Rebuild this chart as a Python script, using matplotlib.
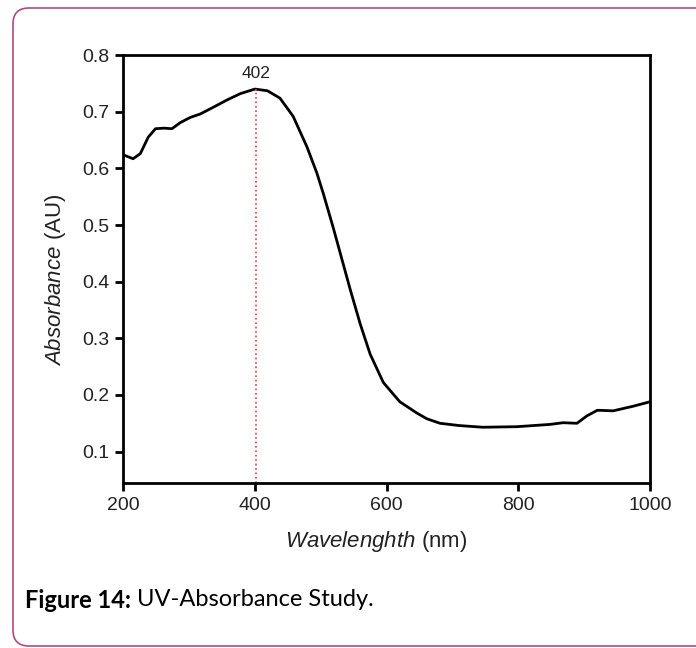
import matplotlib
matplotlib.use('Agg')
import matplotlib.pyplot as plt
from matplotlib.patches import FancyBboxPatch
from matplotlib.transforms import IdentityTransform

plt.rcParams['font.family'] = ['Liberation Sans', 'DejaVu Sans']
plt.rcParams['mathtext.fontset'] = 'custom'
plt.rcParams['mathtext.rm'] = 'Liberation Sans'
plt.rcParams['mathtext.it'] = 'Liberation Sans:italic'

# UV-Vis spectrum
wavelength = [200, 215, 226, 238, 249, 262, 274, 287, 302, 317, 337, 358, 378,
              400, 419, 438, 458, 479, 494, 504, 519, 532, 545, 560, 575, 595,
              620, 646, 661, 681, 710, 746, 798, 848, 868, 889, 904, 920, 944,
              974, 1000]
absorbance = [0.624, 0.617, 0.626, 0.655, 0.670, 0.671, 0.670, 0.681, 0.690,
              0.696, 0.708, 0.721, 0.732, 0.740, 0.737, 0.724, 0.692, 0.638,
              0.592, 0.555, 0.495, 0.440, 0.385, 0.325, 0.272, 0.222, 0.188,
              0.168, 0.158, 0.150, 0.146, 0.143, 0.144, 0.148, 0.151, 0.150,
              0.163, 0.173, 0.172, 0.180, 0.188]
peak_nm = 402
peak_abs = 0.740
xticks = [200, 400, 600, 800, 1000]
yticks = [0.1, 0.2, 0.3, 0.4, 0.5, 0.6, 0.7, 0.8]

fig = plt.figure(figsize=(6.96, 6.48), dpi=100)
ax = fig.add_axes([0.177, 0.255, 0.757, 0.660])

ax.plot(wavelength, absorbance, color='black', lw=2.0)
ax.plot([peak_nm, peak_nm], [0.045, peak_abs], color='#ff3030', lw=1.2, ls=':')
ax.text(peak_nm, 0.768, str(peak_nm), ha='center', va='center', fontsize=12.5,
        color='#222222')

ax.set_xlim(200, 1000)
ax.set_ylim(0.045, 0.8)
ax.set_xticks(xticks)
ax.set_yticks(yticks)
ax.set_yticklabels([f'{v:.1f}' for v in yticks])
ax.tick_params(direction='out', length=6, width=2.0, labelsize=14, pad=4,
               labelcolor='#222222')
for s in ax.spines.values():
    s.set_linewidth(2.0)

ax.set_xlabel(r'$\mathit{Wavelenghth}$ (nm)', fontsize=16, color='#222222',
              va='center')
ax.xaxis.set_label_coords(0.48, -0.138)
ax.set_ylabel(r'$\mathit{Absorbance}$ (AU)', fontsize=16, color='#222222',
              va='center')
ax.yaxis.set_label_coords(-0.129, 0.475)

# caption under the plot
cap = fig.text(25 / 696, 1 - 600 / 648, 'Figure 14:', fontsize=17,
               fontweight='bold', family=['Lato', 'DejaVu Sans'], va='center')
ax.annotate(' UV-Absorbance Study.', xy=(1, 0.5), xycoords=cap, va='center',
            fontsize=17, family=['Lato', 'DejaVu Sans'], annotation_clip=False)

# rounded frame around the figure
frame = FancyBboxPatch((13, 2), 720, 638, boxstyle='round,pad=0,rounding_size=16',
                       transform=IdentityTransform(), fill=False,
                       edgecolor='#b04a80', lw=1.2)
fig.patches.append(frame)

fig.savefig('out.png', dpi=100)
